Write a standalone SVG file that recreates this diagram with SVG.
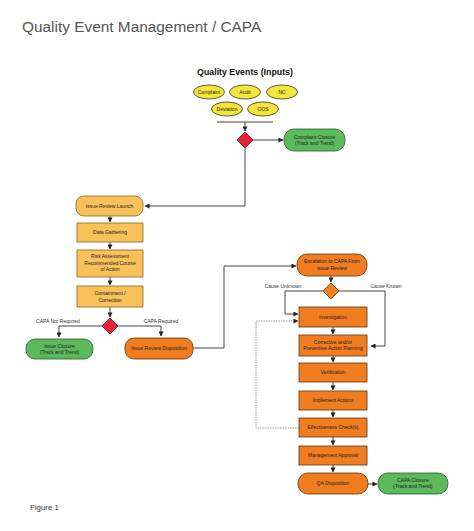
<svg xmlns="http://www.w3.org/2000/svg" width="474" height="531" viewBox="0 0 474 531">
<defs>
<marker id="ah" viewBox="0 0 6 6" refX="5.5" refY="3" markerWidth="5" markerHeight="5" orient="auto" markerUnits="userSpaceOnUse">
<path d="M0,0 L6,3 L0,6 z" fill="#222"/>
</marker>
<style>
.t{font-family:"Liberation Sans",Arial,sans-serif;font-size:5px;fill:#222;text-anchor:middle}
.lb{font-family:"Liberation Sans",Arial,sans-serif;font-size:5px;fill:#333;text-anchor:middle}
.c{fill:none;stroke:#444;stroke-width:1}
.ca{fill:none;stroke:#444;stroke-width:1;marker-end:url(#ah)}
.dot{fill:none;stroke:#999;stroke-width:1;stroke-dasharray:1.5,1;marker-end:url(#ah)}
.yel{fill:#f4e63a;stroke:#333;stroke-width:0.8}
.lo{fill:#f8c15a;stroke:#8a6420;stroke-width:0.8}
.or{fill:#f07d1f;stroke:#5a3510;stroke-width:0.8}
.gr{fill:#5cb95c;stroke:#235a23;stroke-width:0.8}
.red{fill:#e52438;stroke:#6a1018;stroke-width:0.8}
</style>
</defs>
<rect width="474" height="531" fill="#fff"/>
<text x="22" y="32" font-family="Liberation Sans,Arial,sans-serif" font-size="15.4" fill="#555">Quality Event Management / CAPA</text>
<text x="245" y="75" font-family="Liberation Sans,Arial,sans-serif" font-size="8.8" font-weight="bold" fill="#111" text-anchor="middle">Quality Events (Inputs)</text>
<text x="30" y="510" font-family="Liberation Sans,Arial,sans-serif" font-size="7.9" fill="#333">Figure 1</text>

<g id="connectors">
<path class="c" d="M217,122 H273"/>
<path class="ca" d="M245,122 V131"/>
<path class="ca" d="M253,140 H283"/>
<path class="ca" d="M245,148 V206 H145"/>
<path class="ca" d="M110,216 V222"/>
<path class="ca" d="M110,242 V249"/>
<path class="ca" d="M110,277 V285"/>
<path class="ca" d="M110,307 V317"/>
<path class="ca" d="M102,326 H59 V337"/>
<path class="ca" d="M118,326 H161 V336"/>
<path class="ca" d="M193,348 H224 V266 H296"/>
<path class="ca" d="M331,276 V282"/>
<path class="ca" d="M323,291 H285 V314 H298"/>
<path class="ca" d="M339,291 H385 V346 H371"/>
<path class="dot" d="M299,428 H256 V321 H298"/>
<path class="ca" d="M333,327 V334"/>
<path class="ca" d="M333,356 V362"/>
<path class="ca" d="M333,382 V390"/>
<path class="ca" d="M333,410 V417"/>
<path class="ca" d="M333,437 V445"/>
<path class="ca" d="M333,465 V472"/>
<path class="ca" d="M368,484 H377"/>
</g>

<g id="complaint"><ellipse class="yel" cx="209" cy="92" rx="15.5" ry="7"/><text class="t" x="209" y="93.8">Complaint</text></g>
<g id="audit"><ellipse class="yel" cx="245" cy="92" rx="15.5" ry="7"/><text class="t" x="245" y="93.8">Audit</text></g>
<g id="nc"><ellipse class="yel" cx="282" cy="92" rx="15.5" ry="7"/><text class="t" x="282" y="93.8">NC</text></g>
<g id="deviation"><ellipse class="yel" cx="227" cy="109" rx="15.5" ry="7"/><text class="t" x="227" y="110.8">Deviation</text></g>
<g id="oos"><ellipse class="yel" cx="263" cy="109" rx="15.5" ry="7"/><text class="t" x="263" y="110.8">OOS</text></g>

<g id="decision1"><path class="red" d="M245,132 L253,140 L245,148 L237,140 z"/></g>
<g id="complaint-closure"><rect class="gr" x="284" y="129" width="61" height="22" rx="10"/><text class="t" x="314.5" y="138.5">Complaint Closure</text><text class="t" x="314.5" y="145">(Track and Trend)</text></g>

<g id="issue-review-launch"><rect class="lo" x="76" y="196" width="67" height="20" rx="8"/><text class="t" x="109.5" y="207.8">Issue Review Launch</text></g>
<g id="data-gathering"><rect class="lo" x="77" y="223" width="66" height="19"/><text class="t" x="110" y="234.3">Data Gathering</text></g>
<g id="risk-assessment"><rect class="lo" x="77" y="250" width="66" height="27"/><text class="t" x="110" y="258">Risk Assessment</text><text class="t" x="110" y="264.5">Recommended Course</text><text class="t" x="110" y="271">of Action</text></g>
<g id="containment"><rect class="lo" x="77" y="286" width="66" height="21"/><text class="t" x="110" y="295">Containment /</text><text class="t" x="110" y="301.5">Correction</text></g>

<g id="decision2"><path class="red" d="M110,318 L118,326 L110,334 L102,326 z"/></g>
<text class="lb" x="58" y="323">CAPA Not Required</text>
<text class="lb" x="161" y="323">CAPA Required</text>

<g id="issue-closure"><rect class="gr" x="26" y="339" width="67" height="20" rx="9"/><text class="t" x="59.5" y="347.5">Issue Closure</text><text class="t" x="59.5" y="354">(Track and Trend)</text></g>
<g id="issue-review-disposition"><rect class="or" x="125" y="338" width="68" height="21" rx="9"/><text class="t" x="159" y="350.3">Issue Review Disposition</text></g>

<g id="escalation"><rect class="or" x="297" y="254" width="70" height="22" rx="10"/><text class="t" x="332" y="263">Escalation to CAPA From</text><text class="t" x="332" y="269.5">Issue Review</text></g>
<g id="decision3"><path class="or" d="M331,283 L339,291 L331,299 L323,291 z"/></g>
<text class="lb" x="283" y="287.5">Cause Unknown</text>
<text class="lb" x="386" y="287.5">Cause Known</text>

<g id="investigation"><rect class="or" x="299" y="307" width="68" height="20"/><text class="t" x="333" y="318.8">Investigation</text></g>
<g id="corrective"><rect class="or" x="299" y="335" width="68" height="21"/><text class="t" x="333" y="343.8">Corrective and/or</text><text class="t" x="333" y="350.3">Preventive Action Planning</text></g>
<g id="verification"><rect class="or" x="299" y="363" width="68" height="19"/><text class="t" x="333" y="374.3">Verification</text></g>
<g id="implement"><rect class="or" x="299" y="391" width="68" height="19"/><text class="t" x="333" y="402.3">Implement Actions</text></g>
<g id="effectiveness"><rect class="or" x="299" y="418" width="68" height="19"/><text class="t" x="333" y="429.3">Effectiveness Check(s)</text></g>
<g id="management"><rect class="or" x="299" y="446" width="68" height="19"/><text class="t" x="333" y="457.3">Management Approval</text></g>
<g id="qa-disposition"><rect class="or" x="298" y="473" width="70" height="21" rx="10"/><text class="t" x="333" y="485.3">QA Disposition</text></g>
<g id="capa-closure"><rect class="gr" x="378" y="473" width="70" height="21" rx="10"/><text class="t" x="413" y="481.8">CAPA Closure</text><text class="t" x="413" y="488.3">(Track and Trend)</text></g>
</svg>
